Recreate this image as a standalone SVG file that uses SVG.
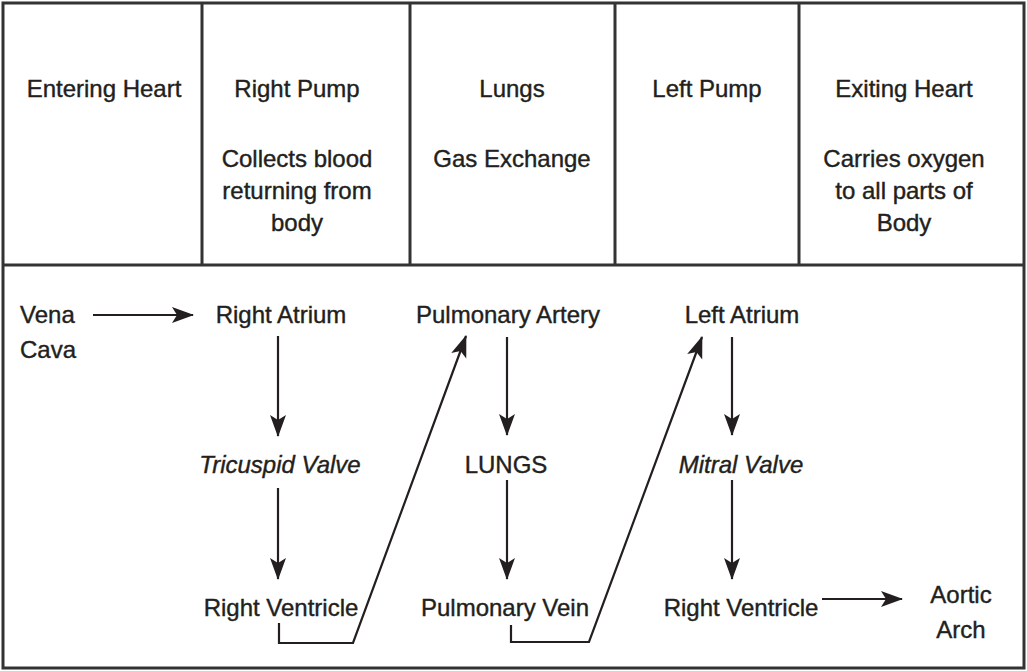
<svg xmlns="http://www.w3.org/2000/svg" width="1027" height="671" viewBox="0 0 1027 671">
<style>
text{font-family:"Liberation Sans",Arial,sans-serif;font-size:24px;fill:#231f20;stroke:#231f20;stroke-width:0.4;text-anchor:middle}
.it{font-style:italic}
.st{text-anchor:start}
.grid{fill:none;stroke:#333;stroke-width:3}
.c{fill:none;stroke:#231f20;stroke-width:2.2}
</style>
<defs>
<marker id="ah" markerUnits="userSpaceOnUse" markerWidth="23" markerHeight="17" refX="21" refY="8" orient="auto">
<path d="M0,0 L22,8 L0,16 L5,8 z" fill="#231f20"/>
</marker>
</defs>
<g id="table">
<rect class="grid" x="3" y="3" width="1021" height="665"/>
<line class="grid" x1="3" y1="265" x2="1024" y2="265"/>
<line class="grid" x1="202" y1="3" x2="202" y2="265"/>
<line class="grid" x1="410" y1="3" x2="410" y2="265"/>
<line class="grid" x1="615" y1="3" x2="615" y2="265"/>
<line class="grid" x1="799" y1="3" x2="799" y2="265"/>
</g>
<g id="h-entering"><text x="104" y="97">Entering Heart</text></g>
<g id="h-right"><text x="297" y="97">Right Pump</text><text x="297" y="167">Collects blood</text><text x="297" y="199">returning from</text><text x="297" y="231">body</text></g>
<g id="h-lungs"><text x="512" y="97">Lungs</text><text x="512" y="167">Gas Exchange</text></g>
<g id="h-left"><text x="707" y="97">Left Pump</text></g>
<g id="h-exiting"><text x="904" y="97">Exiting Heart</text><text x="904" y="167">Carries oxygen</text><text x="904" y="199">to all parts of</text><text x="904" y="231">Body</text></g>
<g id="n-vena"><text class="st" x="20" y="323">Vena</text><text class="st" x="20" y="358">Cava</text></g>
<g id="n-ra"><text x="281" y="323">Right Atrium</text></g>
<g id="n-tv"><text class="it" x="280" y="473">Tricuspid Valve</text></g>
<g id="n-rv1"><text x="281" y="616">Right Ventricle</text></g>
<g id="n-pa"><text x="508" y="323">Pulmonary Artery</text></g>
<g id="n-lungs"><text x="506" y="473">LUNGS</text></g>
<g id="n-pv"><text x="505" y="616">Pulmonary Vein</text></g>
<g id="n-la"><text x="742" y="323">Left Atrium</text></g>
<g id="n-mv"><text class="it" x="741" y="473">Mitral Valve</text></g>
<g id="n-rv2"><text x="741" y="616">Right Ventricle</text></g>
<g id="n-aorta"><text x="961" y="603">Aortic</text><text x="961" y="638">Arch</text></g>
<g id="connectors">
<line class="c" x1="93" y1="315" x2="193" y2="315" marker-end="url(#ah)"/>
<line class="c" x1="278" y1="336" x2="278" y2="436" marker-end="url(#ah)"/>
<line class="c" x1="278" y1="488" x2="278" y2="579" marker-end="url(#ah)"/>
<path class="c" d="M279,623 V643 H353 L466,336" marker-end="url(#ah)"/>
<line class="c" x1="507" y1="337" x2="507" y2="435" marker-end="url(#ah)"/>
<line class="c" x1="507" y1="480" x2="507" y2="579" marker-end="url(#ah)"/>
<path class="c" d="M511,625 V642 H589 L702,337" marker-end="url(#ah)"/>
<line class="c" x1="732" y1="337" x2="732" y2="435" marker-end="url(#ah)"/>
<line class="c" x1="732" y1="480" x2="732" y2="579" marker-end="url(#ah)"/>
<line class="c" x1="822" y1="599" x2="902" y2="599" marker-end="url(#ah)"/>
</g>
</svg>
